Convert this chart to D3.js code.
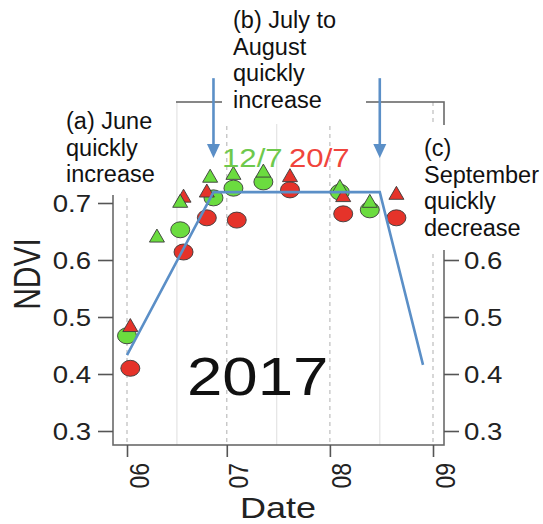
<!DOCTYPE html>
<html>
<head>
<meta charset="utf-8">
<script src="https://cdn.jsdelivr.net/npm/d3@7"></script>
<style>
  body { margin: 0; background: #fff; }
  svg { display: block; }
  text { font-family: "Liberation Sans", Arial, Helvetica, sans-serif; }
</style>
</head>
<body>
<svg id="ndvi-chart"></svg>
<script>
let greenCircleDates = ['2017-06-01', '2017-06-17', '2017-06-27', '2017-07-03', '2017-07-12', '2017-08-04', '2017-08-13'];
let greenCircleNdvi = [0.467, 0.653, 0.709, 0.726, 0.737, 0.719, 0.688];

let greenTriDates = ['2017-06-10', '2017-06-17', '2017-06-26', '2017-07-03', '2017-07-12', '2017-08-04', '2017-08-13'];
let greenTriNdvi = [0.639, 0.700, 0.744, 0.749, 0.753, 0.726, 0.700];

let redCircleDates = ['2017-06-02', '2017-06-18', '2017-06-25', '2017-07-04', '2017-07-20', '2017-08-05', '2017-08-21'];
let redCircleNdvi = [0.410, 0.614, 0.674, 0.670, 0.723, 0.681, 0.674];

let redTriDates = ['2017-06-02', '2017-06-18', '2017-06-25', '2017-07-20', '2017-08-05', '2017-08-21'];
let redTriNdvi = [0.482, 0.709, 0.718, 0.745, 0.710, 0.714];

// schematic trend (blue line)
let trendDates = ['2017-06-01', '2017-06-27', '2017-08-16', '2017-08-29'];
let trendNdvi = [0.433, 0.719, 0.719, 0.416];

// arrows marking the phase changes
let arrowDates = ['2017-06-27', '2017-08-16'];
let arrowFrom = 0.919;
let arrowTo = 0.779;

// axes
let monthTicks = ['2017-06-01', '2017-07-01', '2017-08-01', '2017-09-01'];
let monthLabels = ['06', '07', '08', '09'];
let midMonths = ['2017-06-16', '2017-07-16', '2017-08-16'];
let ndviTicks = [0.3, 0.4, 0.5, 0.6, 0.7, 0.8];
let hiddenLeft = [0.8];       // labels covered by the note boxes
let hiddenRight = [0.7, 0.8];

let config = { svg: {}, frame: {} };
config.svg.width = 543;
config.svg.height = 524;
config.frame.left = 113;
config.frame.right = 444;
config.frame.top = 102;
config.frame.bottom = 445;

let sx = 1.2; // the figure is stretched sideways
let parse = d3.timeParse('%Y-%m-%d');
let blue = '#5b8fc7';
let green = '#6bdc3f';
let red = '#e5332a';

let svg = d3.select('#ndvi-chart')
  .attr('width', config.svg.width)
  .attr('height', config.svg.height);

function translate(x, y) {
  return 'translate(' + x + ',' + y + ')';
}

let x = d3.scaleTime()
  .domain([parse('2017-06-01'), parse('2017-09-01')])
  .range([127, 433]);

let y = d3.scaleLinear()
  .domain([0.3, 0.8])
  .range([431, 146]);

// grid lines
let plot = svg.append('g').attr('id', 'plot');

plot.selectAll('.mid-grid')
  .data(midMonths)
  .enter().append('line')
  .attr('class', 'mid-grid')
  .attr('x1', d => x(parse(d))).attr('x2', d => x(parse(d)))
  .attr('y1', config.frame.top).attr('y2', config.frame.bottom)
  .attr('stroke', '#e6e6e6').attr('stroke-width', 1.3);

plot.selectAll('.month-grid')
  .data(monthTicks)
  .enter().append('line')
  .attr('class', 'month-grid')
  .attr('x1', d => x(parse(d))).attr('x2', d => x(parse(d)))
  .attr('y1', config.frame.top).attr('y2', config.frame.bottom)
  .attr('stroke', '#bdbdbd').attr('stroke-width', 1.2)
  .attr('stroke-dasharray', '4,4');

// frame
plot.append('rect')
  .attr('x', config.frame.left)
  .attr('y', config.frame.top)
  .attr('width', config.frame.right - config.frame.left)
  .attr('height', config.frame.bottom - config.frame.top)
  .attr('fill', 'none')
  .attr('stroke', '#6a6a6a')
  .attr('stroke-width', 1.6);

// axes
let yLeft = d3.axisLeft(y).tickValues(ndviTicks).tickSize(15).tickSizeOuter(0)
  .tickFormat(d => hiddenLeft.includes(d) ? '' : d3.format('.1f')(d));
let yRight = d3.axisRight(y).tickValues(ndviTicks).tickSize(15).tickSizeOuter(0)
  .tickFormat(d => hiddenRight.includes(d) ? '' : d3.format('.1f')(d));
let xAxis = d3.axisBottom(x).tickValues(monthTicks.map(parse)).tickSize(12).tickSizeOuter(0)
  .tickFormat((d, i) => monthLabels[i]);

function styleAxis(g) {
  g.select('.domain').remove();
  g.selectAll('.tick line').attr('stroke', '#555').attr('stroke-width', 1.6);
  g.selectAll('.tick text')
    .attr('fill', '#222')
    .style('font-size', '23px')
    .style('font-family', '"Liberation Sans", Arial, sans-serif');
}

let leftGroup = plot.append('g').attr('transform', translate(config.frame.left, 0)).call(yLeft);
styleAxis(leftGroup);
leftGroup.selectAll('.tick text')
  .attr('x', null).attr('dy', '0.36em')
  .attr('transform', translate(-22, 0) + ' scale(' + sx + ',1)');

let rightGroup = plot.append('g').attr('transform', translate(config.frame.right, 0)).call(yRight);
styleAxis(rightGroup);
rightGroup.selectAll('.tick text')
  .attr('x', null).attr('dy', '0.36em')
  .attr('transform', translate(20, 0) + ' scale(' + sx + ',1)');

let xGroup = plot.append('g').attr('transform', translate(0, config.frame.bottom)).call(xAxis);
styleAxis(xGroup);
xGroup.selectAll('.tick text')
  .attr('y', null).attr('dy', null)
  .attr('text-anchor', 'end')
  .attr('transform', translate(21, 18) + ' scale(' + sx + ',1) rotate(-90)');

// axis titles
plot.append('text')
  .attr('transform', translate(40, 274) + ' scale(' + sx + ',1) rotate(-90)')
  .attr('text-anchor', 'middle')
  .style('font-size', '30px')
  .attr('fill', '#222')
  .text('NDVI');

plot.append('text')
  .attr('transform', translate(278, 518) + ' scale(' + sx + ',1)')
  .attr('text-anchor', 'middle')
  .style('font-size', '30px')
  .attr('fill', '#222')
  .text('Date');

// markers
function pairs(dates, values) {
  return dates.map((d, i) => ({ date: parse(d), ndvi: values[i] }));
}

let tri = 'M0,-8.7L7.5,4.3L-7.5,4.3Z';

function circles(data, fill) {
  plot.append('g').selectAll('ellipse')
    .data(data)
    .enter().append('ellipse')
    .attr('cx', d => x(d.date))
    .attr('cy', d => y(d.ndvi))
    .attr('rx', 9.5).attr('ry', 8)
    .attr('fill', fill)
    .attr('stroke', '#3a3a3a').attr('stroke-width', 0.9);
}

function triangles(data, fill) {
  plot.append('g').selectAll('path')
    .data(data)
    .enter().append('path')
    .attr('d', tri)
    .attr('transform', d => translate(x(d.date), y(d.ndvi)))
    .attr('fill', fill)
    .attr('stroke', '#3a3a3a').attr('stroke-width', 0.9);
}

circles(pairs(redCircleDates, redCircleNdvi), red);
circles(pairs(greenCircleDates, greenCircleNdvi), green);
triangles(pairs(redTriDates, redTriNdvi), red);
triangles(pairs(greenTriDates, greenTriNdvi), green);

// trend line
let line = d3.line().x(d => x(d.date)).y(d => y(d.ndvi));
plot.append('path')
  .datum(pairs(trendDates, trendNdvi))
  .attr('d', line)
  .attr('fill', 'none')
  .attr('stroke', blue)
  .attr('stroke-width', 2.6);

// date labels and year
plot.append('text')
  .attr('transform', translate(222, 167) + ' scale(' + sx + ',1)')
  .style('font-size', '26px')
  .attr('fill', '#6ec94c')
  .text('12/7');

plot.append('text')
  .attr('transform', translate(289, 167) + ' scale(' + sx + ',1)')
  .style('font-size', '26px')
  .attr('fill', '#f0443c')
  .text('20/7');

plot.append('text')
  .attr('transform', translate(187, 395) + ' scale(' + sx + ',1)')
  .style('font-size', '53px')
  .attr('fill', '#111')
  .text('2017');

// annotation boxes laid over the plot
let notes = [
  { box: [57, 95, 119, 100], x: 66, y: 129, lines: ['(a) June', 'quickly', 'increase'] },
  { box: [222, 0, 144, 124], x: 233, y: 28, lines: ['(b) July to', 'August', 'quickly', 'increase'] },
  { box: [418, 125, 125, 125], x: 424, y: 156, lines: ['(c)', 'September', 'quickly', 'decrease'] }
];

let noteGroup = svg.append('g').attr('id', 'notes');
notes.forEach(n => {
  noteGroup.append('rect')
    .attr('x', n.box[0]).attr('y', n.box[1])
    .attr('width', n.box[2]).attr('height', n.box[3])
    .attr('fill', '#fff');
  let t = noteGroup.append('text')
    .attr('x', n.x).attr('y', n.y)
    .style('font-size', '23.5px')
    .attr('fill', '#111');
  t.selectAll('tspan')
    .data(n.lines)
    .enter().append('tspan')
    .attr('x', n.x)
    .attr('dy', (d, i) => i == 0 ? 0 : 26.5)
    .text(d => d);
});

// arrows
let arrows = noteGroup.selectAll('.arrow')
  .data(arrowDates)
  .enter().append('g')
  .attr('class', 'arrow')
  .attr('transform', d => translate(x(parse(d)), 0));

arrows.append('line')
  .attr('x1', 0).attr('x2', 0)
  .attr('y1', y(arrowFrom)).attr('y2', y(arrowTo) - 10)
  .attr('stroke', blue).attr('stroke-width', 2.6);

arrows.append('path')
  .attr('d', 'M-6.5,' + (y(arrowTo) - 14) + 'L6.5,' + (y(arrowTo) - 14) + 'L0,' + y(arrowTo) + 'Z')
  .attr('fill', blue);
</script>
</body>
</html>
